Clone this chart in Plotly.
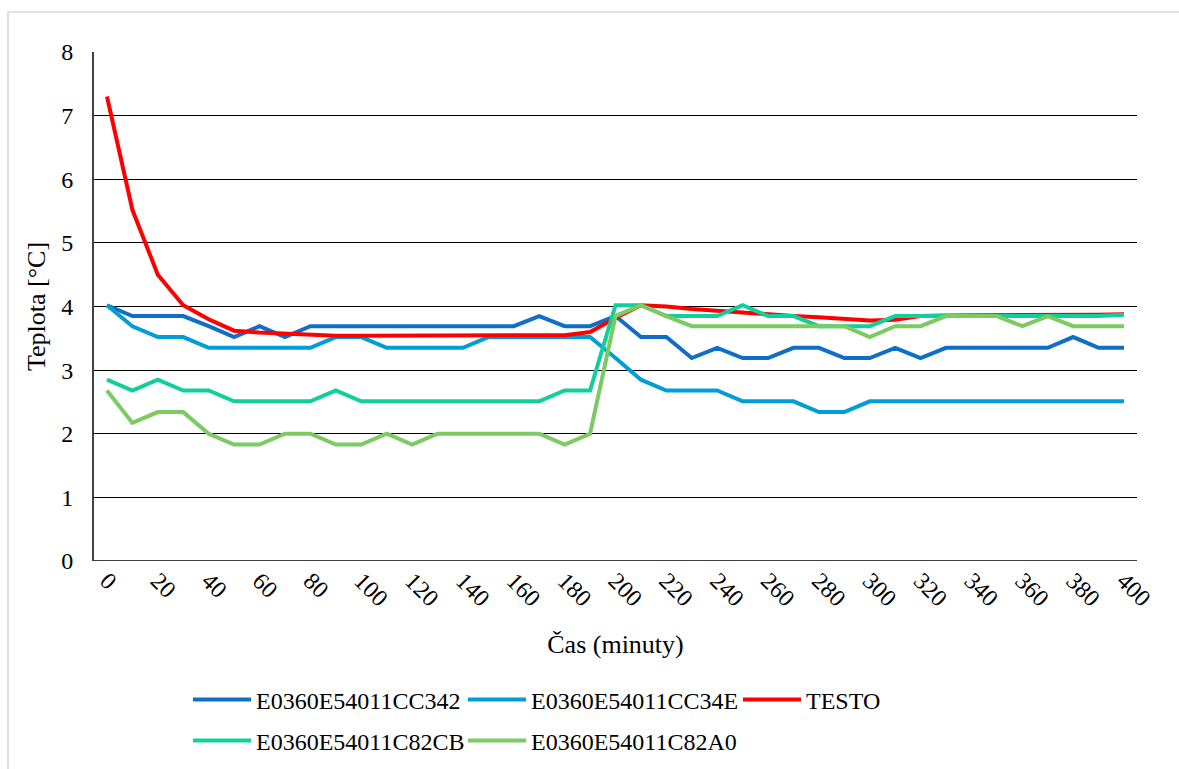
import plotly.graph_objects as go

minutes = [0, 10, 20, 30, 40, 50, 60, 70, 80, 90, 100, 110, 120, 130, 140, 150, 160, 170, 180, 190,
           200, 210, 220, 230, 240, 250, 260, 270, 280, 290, 300, 310, 320, 330, 340, 350, 360, 370,
           380, 390, 400]

cc342 = [4.02, 3.85, 3.85, 3.85, 3.69, 3.52, 3.69, 3.52, 3.69, 3.69, 3.69, 3.69, 3.69, 3.69, 3.69,
         3.69, 3.69, 3.85, 3.69, 3.69, 3.85, 3.52, 3.52, 3.19, 3.35, 3.19, 3.19, 3.35, 3.35, 3.19,
         3.19, 3.35, 3.19, 3.35, 3.35, 3.35, 3.35, 3.35, 3.52, 3.35, 3.35]

cc34e = [4.02, 3.69, 3.52, 3.52, 3.35, 3.35, 3.35, 3.35, 3.35, 3.52, 3.52, 3.35, 3.35, 3.35, 3.35,
         3.52, 3.52, 3.52, 3.52, 3.52, 3.19, 2.85, 2.68, 2.68, 2.68, 2.51, 2.51, 2.51, 2.34, 2.34,
         2.51, 2.51, 2.51, 2.51, 2.51, 2.51, 2.51, 2.51, 2.51, 2.51, 2.51]

testo = [7.30, 5.52, 4.50, 4.02, 3.80, 3.62, 3.59, 3.57, 3.55, 3.54, 3.54, 3.54, 3.54, 3.54, 3.54,
         3.54, 3.54, 3.54, 3.55, 3.60, 3.82, 4.02, 4.00, 3.96, 3.93, 3.90, 3.87, 3.85, 3.83, 3.80,
         3.78, 3.79, 3.85, 3.86, 3.86, 3.86, 3.86, 3.86, 3.87, 3.87, 3.88]

c82cb = [2.85, 2.68, 2.85, 2.68, 2.68, 2.51, 2.51, 2.51, 2.51, 2.68, 2.51, 2.51, 2.51, 2.51, 2.51,
         2.51, 2.51, 2.51, 2.68, 2.68, 4.02, 4.02, 3.85, 3.85, 3.85, 4.02, 3.85, 3.85, 3.69, 3.69,
         3.69, 3.85, 3.85, 3.85, 3.85, 3.85, 3.85, 3.85, 3.85, 3.85, 3.87]

c82a0 = [2.68, 2.17, 2.34, 2.34, 2.00, 1.83, 1.83, 2.00, 2.00, 1.83, 1.83, 2.00, 1.83, 2.00, 2.00,
         2.00, 2.00, 2.00, 1.83, 2.00, 3.85, 4.02, 3.85, 3.69, 3.69, 3.69, 3.69, 3.69, 3.69, 3.69,
         3.52, 3.69, 3.69, 3.85, 3.85, 3.85, 3.69, 3.85, 3.69, 3.69, 3.69]

series = [
    ("E0360E54011CC342", cc342, "#0F6FC6", "legend"),
    ("E0360E54011CC34E", cc34e, "#009DD9", "legend"),
    ("TESTO", testo, "#FF0000", "legend"),
    ("E0360E54011C82CB", c82cb, "#10CF9B", "legend2"),
    ("E0360E54011C82A0", c82a0, "#7CCA62", "legend2"),
]

xticks = [0, 20, 40, 60, 80, 100, 120, 140, 160, 180, 200, 220, 240, 260, 280, 300, 320, 340, 360,
          380, 400]

FONT = "Liberation Serif"

fig = go.Figure()
for name, vals, color, lg in series:
    fig.add_trace(go.Scatter(x=minutes, y=vals, name=name, mode="lines",
                             line=dict(color=color, width=4), legend=lg))

# plot area pixels: left 94, right 1137, top 52, bottom 561
L, R, T, B = 94, 1137, 52, 561
W, H = 1179, 769


def px_x(p):
    return (p - L) / (R - L)


def px_y(p):
    return (B - p) / (B - T)


legend_common = dict(orientation="h", font=dict(family=FONT, size=24, color="#000000"),
                     entrywidth=202, entrywidthmode="pixels", itemwidth=58,
                     bgcolor="rgba(0,0,0,0)", xanchor="left", yanchor="middle",
                     tracegroupgap=0)

fig.update_layout(
    width=W, height=H,
    margin=dict(l=L, r=W - R, t=T, b=H - B, autoexpand=False),
    paper_bgcolor="white", plot_bgcolor="white",
    font=dict(family=FONT, size=24, color="#000000"),
    legend=dict(x=px_x(188), y=px_y(700), **legend_common),
    legend2=dict(x=px_x(188), y=px_y(741), **legend_common),
    xaxis=dict(range=[-5.1, 405.1], tickmode="array", tickvals=xticks,
               ticktext=[str(v) for v in xticks], tickangle=45,
               showgrid=False, zeroline=False, showline=False, ticks="",
               tickfont=dict(family=FONT, size=24, color="#000000"),
               title=dict(text="Čas (minuty)", font=dict(family=FONT, size=26, color="#000000"),
                          standoff=24)),
    yaxis=dict(range=[0, 8], dtick=1, showgrid=True, gridcolor="#000000", gridwidth=1.3,
               zeroline=False, showline=True, linecolor="#404040", linewidth=2,
               ticks="", ticklabelstandoff=14,
               tickfont=dict(family=FONT, size=24, color="#000000"),
               title=dict(text="Teplota [°C]", font=dict(family=FONT, size=26, color="#000000"),
                          standoff=8)),
    shapes=[
        dict(type="rect", xref="paper", yref="paper", x0=px_x(8), x1=px_x(1190),
             y0=px_y(780), y1=px_y(12), line=dict(color="#D9D9D9", width=1.5),
             fillcolor="rgba(0,0,0,0)", layer="below"),
        dict(type="line", xref="paper", yref="y", x0=0, x1=1, y0=0, y1=0,
             line=dict(color="#000000", width=1.3)),
    ],
)

fig.write_html("out.html")
